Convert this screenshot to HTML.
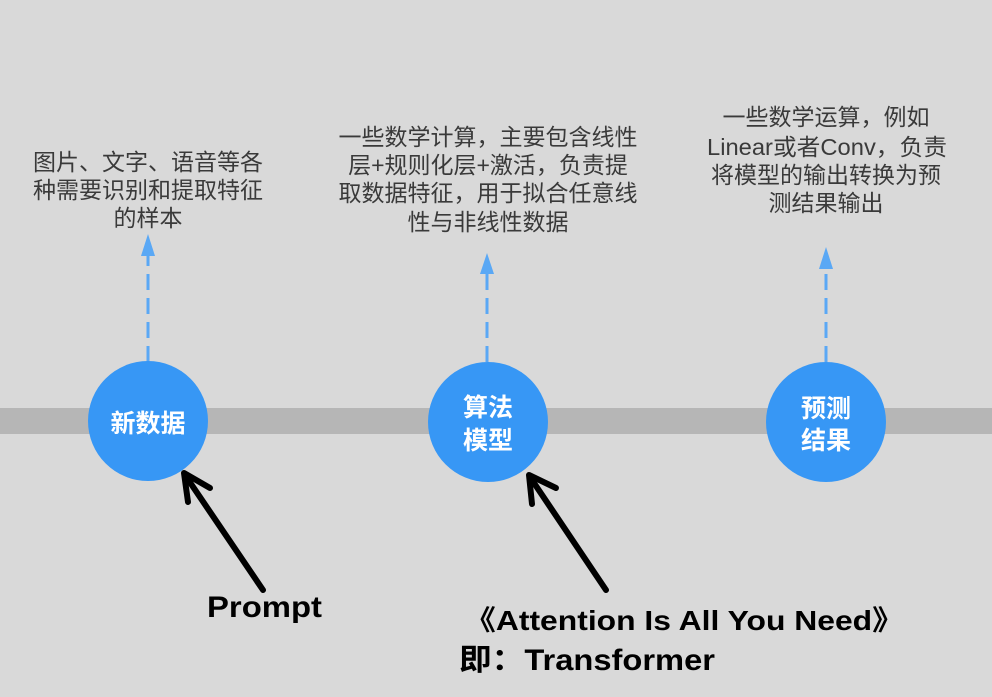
<!DOCTYPE html>
<html>
<head>
<meta charset="utf-8">
<style>
  html,body{margin:0;padding:0;background:#d9d9d9;}
  svg{display:block;}
</style>
</head>
<body>
<svg width="992" height="697" viewBox="0 0 992 697" xmlns="http://www.w3.org/2000/svg">
  <rect x="0" y="0" width="992" height="697" fill="#d9d9d9"/>
  <!-- band -->
  <rect x="0" y="408" width="992" height="26" fill="#b6b6b6"/>

  <!-- dashed arrows -->
  <g stroke="#5aa8f5" stroke-width="3" stroke-dasharray="16 8" fill="none">
    <line x1="148" y1="362" x2="148" y2="256"/>
    <line x1="487" y1="362" x2="487" y2="272"/>
    <line x1="826" y1="362" x2="826" y2="268"/>
  </g>
  <g fill="#5aa8f5">
    <polygon points="148,234 141,256 155,256"/>
    <polygon points="487,253 480,274 494,274"/>
    <polygon points="826,247 819,269 833,269"/>
  </g>

  <!-- circles -->
  <g fill="#3797f5">
    <circle cx="148" cy="421" r="60"/>
    <circle cx="488" cy="422" r="60"/>
    <circle cx="826" cy="422" r="60"/>
  </g>
  <g fill="#ffffff" font-family="'Liberation Sans','Noto Sans CJK SC',sans-serif" font-weight="bold" font-size="25" text-anchor="middle">
    <text x="148" y="432">新数据</text>
    <text x="488" y="416">算法</text>
    <text x="488" y="449">模型</text>
    <text x="826" y="417">预测</text>
    <text x="826" y="449">结果</text>
  </g>

  <!-- descriptions -->
  <g fill="#3a3a3a" font-family="'Liberation Sans','Noto Sans CJK SC',sans-serif" font-size="23" text-anchor="middle">
    <text x="148" y="170">图片、文字、语音等各</text>
    <text x="148" y="198">种需要识别和提取特征</text>
    <text x="148" y="226">的样本</text>

    <text x="488" y="145">一些数学计算，主要包含线性</text>
    <text x="488" y="173">层+规则化层+激活，负责提</text>
    <text x="488" y="201">取数据特征，用于拟合任意线</text>
    <text x="488" y="230">性与非线性数据</text>

    <text x="826" y="125">一些数学运算，例如</text>
    <text x="827" y="155" textLength="240" lengthAdjust="spacingAndGlyphs">Linear或者Conv，负责</text>
    <text x="826" y="183">将模型的输出转换为预</text>
    <text x="826" y="211">测结果输出</text>
  </g>

  <!-- black arrows -->
  <g stroke="#000" stroke-width="6" stroke-linecap="round" stroke-linejoin="round" fill="none">
    <line x1="263" y1="590" x2="185" y2="475"/>
    <polyline points="210,488 184,473 188,502"/>
    <line x1="606" y1="590" x2="530" y2="477"/>
    <polyline points="556,488 529,475 532,504"/>
  </g>

  <!-- bottom labels -->
  <g fill="#000" font-family="'Liberation Sans','Noto Sans CJK SC',sans-serif" font-weight="bold">
    <text x="207" y="617" font-size="30" textLength="115" lengthAdjust="spacingAndGlyphs">Prompt</text>
    <text x="464" y="630" font-size="28" textLength="440" lengthAdjust="spacingAndGlyphs">《Attention Is All You Need》</text>
    <text x="459" y="670" font-size="30" textLength="256" lengthAdjust="spacingAndGlyphs">即：Transformer</text>
  </g>
</svg>
</body>
</html>
